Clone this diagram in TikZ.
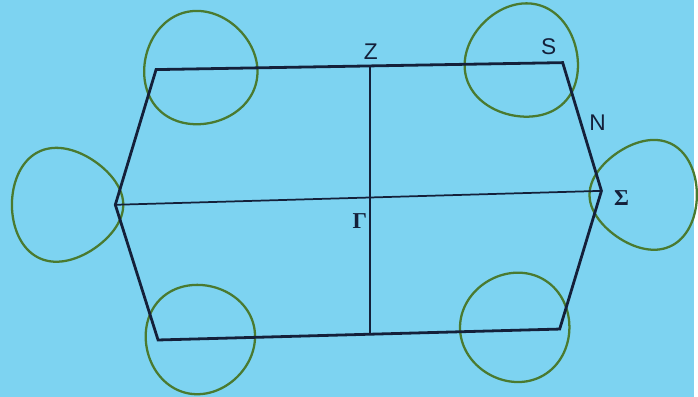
\documentclass[tikz,border=0pt]{standalone}
\usepackage{fontspec}
\setmainfont{Liberation Sans}
\newfontfamily\greekfont{Liberation Serif}
\usetikzlibrary{positioning}
\definecolor{screen}{HTML}{7DD3F1}
\definecolor{edge}{HTML}{14203A}
\definecolor{pocket}{HTML}{4A7A30}

\begin{document}
\begin{tikzpicture}[x=0.02cm,y=-0.02cm,font=\fontsize{13}{15}\selectfont]
\tikzstyle{zone}=[draw=edge,line width=1.6pt,line join=miter]
\tikzstyle{axis}=[draw=edge,line width=1pt]
\tikzstyle{loop}=[draw=pocket,line width=1.3pt]
\tikzstyle{lbl}=[inner sep=1pt,text=edge]
\fill[screen] (0,0) rectangle (698,399);
% zone corners
\coordinate (tl) at (157,70);
\coordinate (tr) at (566,63);
\coordinate (rt) at (605,192);
\coordinate (br) at (563,331);
\coordinate (bl) at (159,342);
\coordinate (lf) at (116,206);
\coordinate (zt) at (372,66);
\coordinate (zb) at (372,336);
% pockets: centre x / centre y / radius / tip direction / pinch
\foreach \cx/\cy/\r/\ang/\k in {200/70/57/225/0.1, 527/63/57/-45/0.13,
    68/206/56/0/0.22, 647/196/54/180/0.22,
    200/340/55/135/0.08, 519/330/55/-60/0.06}
  \draw[loop,shift={(\cx,\cy)},rotate=\ang]
    plot[domain=0:355,samples=72,smooth cycle] ({\r*cos(\x)},{\r*sin(\x)*(1-\k*cos(\x))});
% zone
\draw[zone] (tl) -- (tr) -- (rt) -- (br) -- (bl) -- (lf) -- cycle;
\draw[axis] (lf) -- (rt);
\draw[axis] (zt) -- (zb);
% labels
\node[lbl] (z) at (373,52) {Z};
\node[lbl] (s) at (552,47) {S};
\node[lbl] (n) at (601,123) {N};
\node[lbl,right=6pt of rt,yshift=-4pt] (sig) {\greekfont\bfseries Σ};
\node[lbl] (gam) at (362,222) {\greekfont\bfseries Γ};
\end{tikzpicture}
\end{document}
